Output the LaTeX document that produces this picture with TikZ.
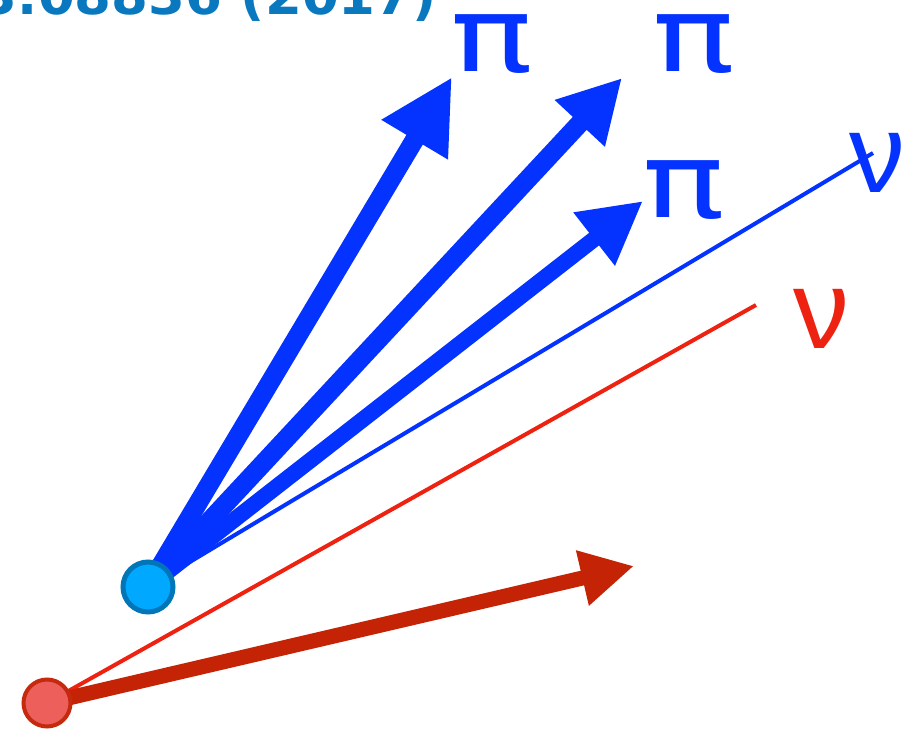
\documentclass[tikz,border=0pt]{standalone}
\usepackage{fontspec}
\usepackage{tikz}
\usetikzlibrary{positioning, arrows.meta}
\usepackage{xcolor}
\newfontfamily\greekfont{DejaVu Sans}
\newfontfamily\nufont{Liberation Sans}
\definecolor{PionBlue}{HTML}{0433FF}
\definecolor{CiteBlue}{HTML}{0A78BE}
\definecolor{DotBlue}{HTML}{00A8FF}
\definecolor{DotBlueEdge}{HTML}{0076B8}
\definecolor{NuRed}{HTML}{EE2211}
\definecolor{ArrowRed}{HTML}{C42306}
\definecolor{DotRed}{HTML}{EC5F5A}
\definecolor{DotRedEdge}{HTML}{C62A0E}

\begin{document}
\begin{tikzpicture}[
  x=1pt, y=-1pt,
  bluedot/.style={circle, draw=DotBlueEdge, fill=DotBlue, line width=5pt, minimum size=50pt, inner sep=0pt},
  reddot/.style={circle, draw=DotRedEdge, fill=DotRed, line width=4pt, minimum size=47pt, inner sep=0pt},
  pilab/.style={text=PionBlue, inner sep=0pt, font=\greekfont\fontsize{104}{104}\selectfont},
  nulab/.style={inner sep=0pt, font=\nufont\fontsize{112}{112}\selectfont},
  cite/.style={text=CiteBlue, inner sep=0pt, anchor=base east, font=\greekfont\bfseries\fontsize{53}{53}\selectfont},
  thinline/.style={line width=4pt},
]
\useasboundingbox (0,0) rectangle (908,733);
\clip (0,0) rectangle (908,733);

\node[cite] (ref) at (437,15) {3.08836 (2017)};

% labels
\node[pilab] (pi1) at (492,44) {\scalebox{1.32}[1]{π}};
\node[pilab] (pi2) at (694,44) {\scalebox{1.32}[1]{π}};
\node[pilab] (pi3) at (684,190) {\scalebox{1.32}[1]{π}};
\node[nulab, text=PionBlue] (nu1) at (877,163) {ν};
\node[nulab, text=NuRed] (nu2) at (821,319) {ν};

% vertices and free ends
\coordinate (vb) at (148,587);
\coordinate (vr) at (47,703);
\coordinate (t1) at (452,77);
\coordinate (t2) at (622,78);
\coordinate (t3) at (643,201);
\coordinate (tn1) at (873,153);
\coordinate (tn2) at (756,305);
\coordinate (tr) at (634,566);

\draw[thinline, PionBlue] (vb) -- (tn1);
\draw[PionBlue, line width=19pt, -{Triangle[length=73pt, width=72pt]}] (vb) -- (t1);
\draw[PionBlue, line width=19pt, -{Triangle[length=62pt, width=64pt]}] (vb) -- (t2);
\draw[PionBlue, line width=16pt, -{Triangle[length=62pt, width=63pt]}] (vb) -- (t3);

\draw[thinline, NuRed] (vr) -- (tn2);
\draw[ArrowRed, line width=15pt, -{Triangle[length=53pt, width=53pt]}] (vr) -- (tr);

\node[bluedot] (blob) at (vb) {};
\node[reddot] (rlob) at (vr) {};

\end{tikzpicture}
\end{document}
